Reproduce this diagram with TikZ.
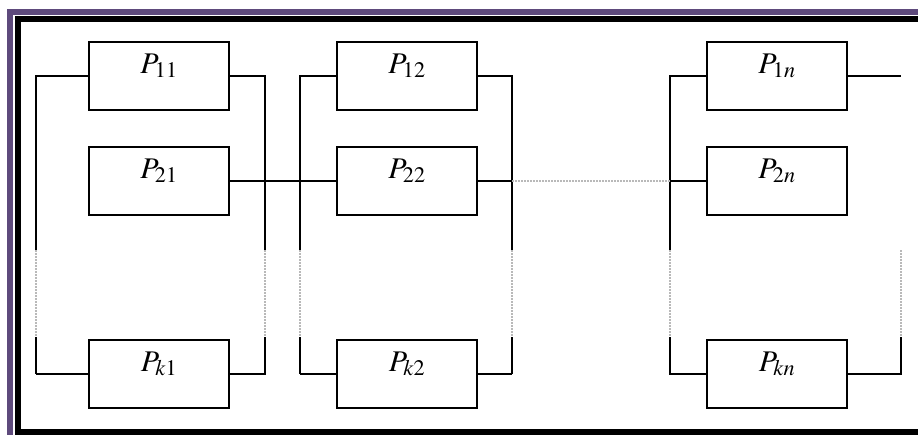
\documentclass[tikz,border=0pt]{standalone}
\usepackage{amsmath}
\usepackage{mathptmx}
\usepackage{xcolor}
\usepackage{tikz}
\usetikzlibrary{calc, positioning}

\definecolor{framepurple}{RGB}{94,74,124}

\tikzset{
    elem/.style={draw, line width=2.4pt, minimum width=140pt, minimum height=68pt,
        inner sep=0pt, text height=20pt, text depth=26pt, font=\fontsize{30}{34}\selectfont},
    wire/.style={black, line width=1.3pt},
    wirebold/.style={black, line width=2.4pt},
    gapline/.style={gray!55, line width=1.4pt, dash pattern=on 2pt off 1pt},
}

\begin{document}
\begin{tikzpicture}[x=1pt, y=-1pt]
    \useasboundingbox (0,0) rectangle (918,434);
    \clip (0,0) rectangle (918,434);

    % 1. Khung viền tím và đen
    \draw[framepurple, line width=6pt] (10,12) rectangle (940,460);
    \draw[black, line width=6pt] (18,19) rectangle (930,432);

    % 2. Các khối phần tử
    \node[elem] (p11) at (159,76) {$P_{11}$};
    \node[elem] (p21) at (159,181) {$P_{21}$};
    \node[elem] (pk1) at (159,374) {$P_{k1}$};

    \node[elem] (p12) at (407,76) {$P_{12}$};
    \node[elem] (p22) at (407,181) {$P_{22}$};
    \node[elem] (pk2) at (407,374) {$P_{k2}$};

    \node[elem] (p1n) at (777,76) {$P_{1n}$};
    \node[elem] (p2n) at (777,181) {$P_{2n}$};
    \node[elem] (pkn) at (777,374) {$P_{kn}$};

    % 3. Điểm đầu và cuối các đoạn chấm
    \coordinate (a1) at (36,250);  \coordinate (b1) at (36,337);
    \coordinate (c1) at (265,250); \coordinate (d1) at (265,337);
    \coordinate (a2) at (300,250); \coordinate (b2) at (300,337);
    \coordinate (c2) at (512,250); \coordinate (d2) at (512,337);
    \coordinate (a3) at (670,250); \coordinate (b3) at (670,337);
    \coordinate (c3) at (901,250); \coordinate (d3) at (901,337);
    \coordinate (tail) at (901,76);

    % 4. Cột 1
    \draw[wire] (p11.west) -| (a1);
    \draw[wire] (p11.east) -| (c1);
    \draw[gapline] (a1) -- (b1);
    \draw[gapline] (c1) -- (d1);
    \draw[wirebold] (b1) -- (b1 |- pk1.west);
    \draw[wire] (b1 |- pk1.west) -- (pk1.west);
    \draw[wirebold] (d1) |- (pk1.east);

    % 5. Cột 2
    \draw[wire] (p12.west) -| (a2);
    \draw[wire] (p12.east) -| (c2);
    \draw[gapline] (a2) -- (b2);
    \draw[gapline] (c2) -- (d2);
    \draw[wire] (b2) -- (b2 |- pk2.west);
    \draw[wirebold] (b2 |- pk2.west) -- (pk2.west);
    \draw[wire] (d2) -- (d2 |- pk2.east);
    \draw[wirebold] (d2 |- pk2.east) -- (pk2.east);

    % 6. Cột n
    \draw[wire] (p1n.west) -| (a3);
    \draw[wire] (p1n.east) -- (tail);
    \draw[gapline] (a3) -- (b3);
    \draw[gapline] (c3) -- (d3);
    \draw[wirebold] (b3) |- (pkn.west);
    \draw[wire] (d3) |- (pkn.east);

    % 7. Hàng 2
    \draw[wire] (p21.east) -- (p22.west);
    \draw[wire] (p22.east) -- (p22.east -| c2);
    \draw[gapline] (p22.east -| c2) -- (p2n.west -| a3);
    \draw[wire] (p2n.west -| a3) -- (p2n.west);

\end{tikzpicture}
\end{document}
